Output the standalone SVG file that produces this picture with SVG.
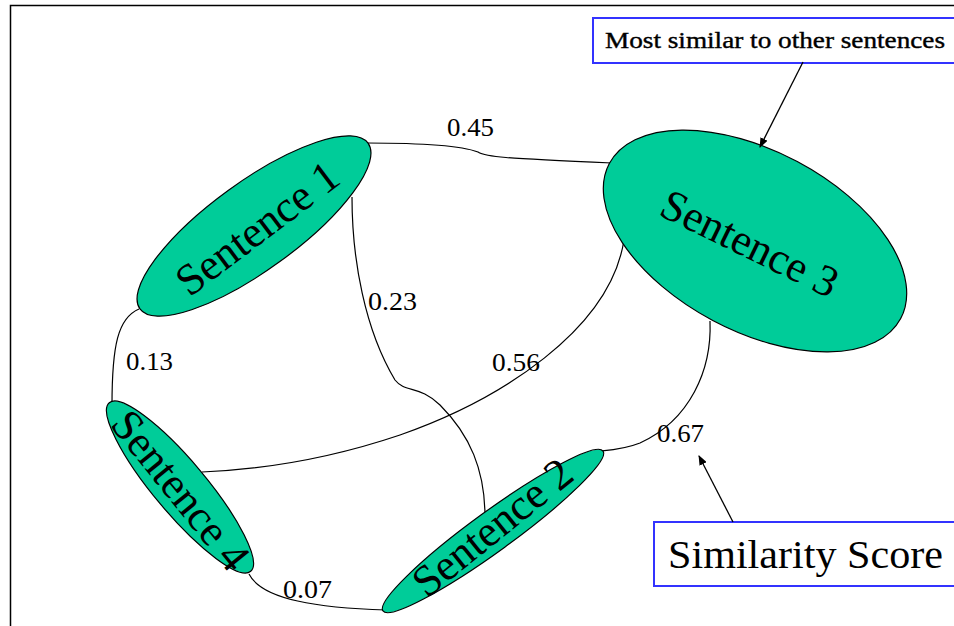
<svg xmlns="http://www.w3.org/2000/svg" width="954" height="626" viewBox="0 0 954 626">
<defs>
<style>
.node{fill:#00CC99;stroke:#000;stroke-width:1.2}
.nt{font-family:"Liberation Serif","Times New Roman",serif;font-size:44px;fill:#000;text-anchor:middle}
.edge{fill:none;stroke:#000;stroke-width:1.2}
.lbl{font-family:"Liberation Serif","Times New Roman",serif;font-size:25px;fill:#000}
.box{fill:#fff;stroke:#3333FF;stroke-width:2}
.arr{stroke:#000;stroke-width:1.3;fill:none;marker-end:url(#ah)}
</style>
<marker id="ah" markerWidth="10" markerHeight="8" refX="9" refY="4" orient="auto" markerUnits="userSpaceOnUse">
<path d="M0,0 L10,4 L0,8 Z" fill="#000"/>
</marker>
</defs>
<rect width="954" height="626" fill="#fff"/>
<g id="frame"><path d="M10.5,626 V5.5 H954" fill="none" stroke="#000" stroke-width="1.5"/></g>
<g id="connectors">
<path class="edge" d="M367,143 C420,143 462,146 478,152 C486,157 500,158 612,163"/>
<path class="edge" d="M139,309 C118,318 112,345 112,405"/>
<path class="edge" d="M352,197 C352,260 365,330 395,380 C405,393 420,385 440,405 C470,435 485,470 485,517"/>
<path class="edge" d="M624,240 C610,330 500,400 400,435 C320,462 250,470 202,472"/>
<path class="edge" d="M710,321 C712,370 690,420 640,443 C625,449 612,450 601,451"/>
<path class="edge" d="M249,574 C262,600 320,608 386,610"/>
</g>
<g id="edge-labels">
<text class="lbl" x="447" y="136" textLength="47" lengthAdjust="spacingAndGlyphs">0.45</text>
<text class="lbl" x="368" y="310" textLength="49" lengthAdjust="spacingAndGlyphs">0.23</text>
<text class="lbl" x="492" y="371" textLength="48" lengthAdjust="spacingAndGlyphs">0.56</text>
<text class="lbl" x="126" y="370" textLength="47" lengthAdjust="spacingAndGlyphs">0.13</text>
<text class="lbl" x="283" y="598" textLength="49" lengthAdjust="spacingAndGlyphs">0.07</text>
<text class="lbl" x="657" y="442" textLength="47" lengthAdjust="spacingAndGlyphs">0.67</text>
</g>
<g id="sentence1">
<ellipse class="node" cx="254" cy="226" rx="141" ry="44" transform="rotate(-36 254 226)"/>
<text class="nt" x="257" y="243" transform="rotate(-37 257 228)">Sentence 1</text>
</g>
<g id="sentence3">
<ellipse class="node" cx="755" cy="241" rx="165" ry="90" transform="rotate(28 755 241)"/>
<text class="nt" x="750" y="258" transform="rotate(26 750 243)">Sentence 3</text>
</g>
<g id="sentence4">
<ellipse class="node" cx="180" cy="487" rx="110" ry="26" transform="rotate(50 180 487)"/>
<text class="nt" x="181" y="505" transform="rotate(51 181 490)">Sentence 4</text>
</g>
<g id="sentence2">
<ellipse class="node" cx="493" cy="531" rx="136" ry="20" transform="rotate(-36 493 531)"/>
<text class="nt" x="492" y="542" transform="rotate(-39 492 527)">Sentence 2</text>
</g>
<g id="note-most-similar">
<rect class="box" x="593" y="18" width="370" height="45"/>
<text x="605" y="48" font-family="Liberation Serif, Times New Roman, serif" font-size="24" stroke="#000" stroke-width="0.4" textLength="340" lengthAdjust="spacingAndGlyphs">Most similar to other sentences</text>
</g>
<g id="note-similarity-score">
<rect class="box" x="654" y="522" width="310" height="64"/>
<text x="668" y="568" font-family="Liberation Serif, Times New Roman, serif" font-size="41" textLength="275" lengthAdjust="spacingAndGlyphs">Similarity Score</text>
</g>
<g id="annotation-arrows">
<path class="arr" d="M803,62 L760,147"/>
<path class="arr" d="M733,522 L699,456"/>
</g>
</svg>
